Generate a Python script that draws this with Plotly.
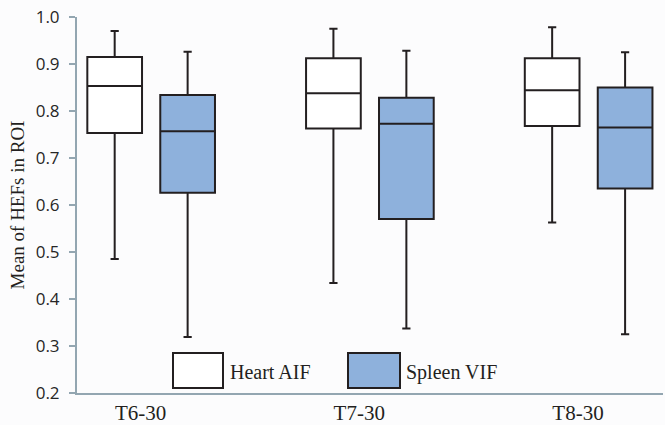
import plotly.graph_objects as go
import numpy as np

# ---- data ----
categories = ["T6-30", "T7-30", "T8-30"]
series_names = ["Heart AIF", "Spleen VIF"]

heart_upper = [0.970, 0.975, 0.978]
heart_q3 = [0.915, 0.912, 0.912]
heart_median = [0.853, 0.838, 0.844]
heart_q1 = [0.753, 0.763, 0.768]
heart_lower = [0.485, 0.434, 0.563]

spleen_upper = [0.926, 0.928, 0.925]
spleen_q3 = [0.834, 0.828, 0.850]
spleen_median = [0.757, 0.773, 0.765]
spleen_q1 = [0.626, 0.570, 0.635]
spleen_lower = [0.319, 0.337, 0.325]

y_ticks = [0.2, 0.3, 0.4, 0.5, 0.6, 0.7, 0.8, 0.9, 1.0]

# ---- styles ----
LINE = "#231f20"
HEART_FILL = "#ffffff"
SPLEEN_FILL = "#8eb1dc"
AXIS = "#93a6b1"
BG = "#fcfcfd"
SERIF = "Liberation Serif, Times New Roman, serif"
SANS = "Open Sans, Liberation Sans, sans-serif"

W, H = 665, 425
ML, MR, MT, MB = 77, 2, 17, 32

pos = np.arange(len(categories))

fig = go.Figure()
fig.add_trace(go.Box(
    x=pos, q1=heart_q1, median=heart_median, q3=heart_q3,
    lowerfence=heart_lower, upperfence=heart_upper,
    name=series_names[0], fillcolor=HEART_FILL,
    line=dict(color=LINE, width=2), whiskerwidth=0.15,
    boxpoints=False, showlegend=False))
fig.add_trace(go.Box(
    x=pos, q1=spleen_q1, median=spleen_median, q3=spleen_q3,
    lowerfence=spleen_lower, upperfence=spleen_upper,
    name=series_names[1], fillcolor=SPLEEN_FILL,
    line=dict(color=LINE, width=2), whiskerwidth=0.15,
    boxpoints=False, showlegend=False))

# manual legend with large swatches (pixel layout -> paper coords)
pw, ph = W - ML - MR, H - MT - MB
def px(x):
    return (x - ML) / pw
def py(y):
    return (H - MB - y) / ph

legend_items = [
    (series_names[0], HEART_FILL, 173, 223, 228),
    (series_names[1], SPLEEN_FILL, 348, 400, 404),
]
for name, color, x0, x1, tx in legend_items:
    fig.add_shape(type="rect", xref="paper", yref="paper",
                  x0=px(x0), x1=px(x1), y0=py(388), y1=py(353),
                  line=dict(color=LINE, width=2), fillcolor=color)
    fig.add_annotation(xref="paper", yref="paper", x=px(tx), y=py(372),
                       xanchor="left", yanchor="middle", text=name,
                       showarrow=False,
                       font=dict(family=SERIF, size=20, color=LINE))

fig.update_layout(
    width=W, height=H,
    margin=dict(l=ML, r=MR, t=MT, b=MB),
    paper_bgcolor=BG, plot_bgcolor=BG,
    boxmode="group", boxgap=0.333, boxgroupgap=0.25,
    showlegend=False,
)
fig.update_xaxes(
    range=[-0.339, 2.340], automargin=False,
    tickmode="array", tickvals=pos - 0.0485, ticktext=categories,
    ticks="", showgrid=False, zeroline=False,
    showline=True, linecolor=AXIS, linewidth=2,
    tickfont=dict(family=SERIF, size=21, color=LINE),
    ticklabelstandoff=0,
)
fig.update_yaxes(
    range=[0.2, 1.0], tickvals=y_ticks, tickformat=".1f", automargin=False,
    ticks="outside", ticklen=6, tickwidth=1.5, tickcolor=AXIS,
    showgrid=False, zeroline=False,
    showline=True, linecolor=AXIS, linewidth=2,
    tickfont=dict(family=SANS, size=17, color="#262626"),
    ticklabelstandoff=6,
    title=dict(text="Mean of HEFs in ROI", standoff=6,
               font=dict(family=SERIF, size=19, color=LINE)),
)

fig.write_html("out.html", config={"displayModeBar": False},
               post_script="document.body.style.margin='0';document.body.style.overflow='hidden';")
